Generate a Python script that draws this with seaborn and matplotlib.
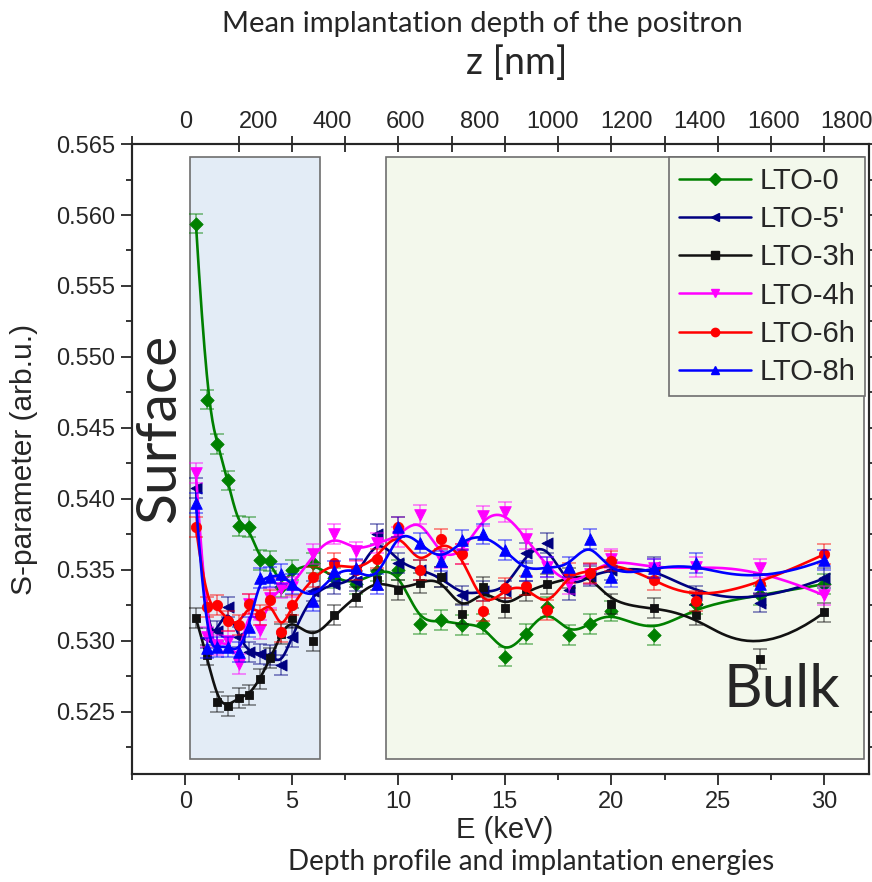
import numpy as np
import matplotlib
matplotlib.use("Agg")
import matplotlib.pyplot as plt
import seaborn as sns
from matplotlib.lines import Line2D
from matplotlib.patches import Rectangle
from matplotlib.ticker import MultipleLocator, FormatStrFormatter

# ---------- data ----------
energy = [0.5, 1, 1.5, 2, 2.5, 3, 3.5, 4, 4.5, 5, 6, 7, 8, 9, 10,
          11, 12, 13, 14, 15, 16, 17, 18, 19, 20, 22, 24, 27, 30]

s_lto0 = [0.5594, 0.5470, 0.5439, 0.5413, 0.5381, 0.5380, 0.5357, 0.5356, 0.5338, 0.5350,
          0.5355, 0.5344, 0.5340, 0.5349, 0.5350, 0.5312, 0.5315, 0.5311, 0.5312, 0.5289,
          0.5305, 0.5324, 0.5304, 0.5312, 0.5321, 0.5304, 0.5326, 0.5332, 0.5340]
s_lto5 = [0.5408, 0.5302, 0.5307, 0.5324, 0.5303, 0.5292, 0.5291, 0.5290, 0.5283, 0.5303,
          0.5335, 0.5340, 0.5342, 0.5375, 0.5355, 0.5350, 0.5345, 0.5332, 0.5335, 0.5335,
          0.5362, 0.5369, 0.5336, 0.5346, 0.5350, 0.5352, 0.5332, 0.5327, 0.5344]
s_lto3h = [0.5316, 0.5290, 0.5257, 0.5254, 0.5260, 0.5262, 0.5273, 0.5288, 0.5305, 0.5316,
           0.5300, 0.5318, 0.5331, 0.5343, 0.5336, 0.5341, 0.5345, 0.5319, 0.5338, 0.5323,
           0.5335, 0.5340, 0.5344, 0.5347, 0.5326, 0.5323, 0.5318, 0.5287, 0.5320]
s_lto4h = [0.5418, 0.5303, 0.5297, 0.5300, 0.5284, 0.5326, 0.5308, 0.5330, 0.5337, 0.5338,
           0.5361, 0.5375, 0.5363, 0.5369, 0.5373, 0.5389, 0.5358, 0.5361, 0.5388, 0.5391,
           0.5372, 0.5352, 0.5340, 0.5347, 0.5358, 0.5351, 0.5352, 0.5351, 0.5332]
s_lto6h = [0.5380, 0.5324, 0.5325, 0.5314, 0.5311, 0.5326, 0.5318, 0.5329, 0.5306, 0.5325,
           0.5345, 0.5355, 0.5350, 0.5358, 0.5380, 0.5350, 0.5372, 0.5361, 0.5321, 0.5337,
           0.5339, 0.5322, 0.5348, 0.5348, 0.5356, 0.5343, 0.5328, 0.5340, 0.5361]
s_lto8h = [0.5397, 0.5295, 0.5296, 0.5296, 0.5292, 0.5310, 0.5344, 0.5345, 0.5347, 0.5340,
           0.5328, 0.5349, 0.5351, 0.5340, 0.5380, 0.5369, 0.5356, 0.5371, 0.5375, 0.5364,
           0.5349, 0.5352, 0.5352, 0.5372, 0.5345, 0.5351, 0.5355, 0.5340, 0.5357]
s_err = 0.0007

series = [s_lto0, s_lto5, s_lto3h, s_lto4h, s_lto6h, s_lto8h]
labels = ["LTO-0", "LTO-5'", "LTO-3h", "LTO-4h", "LTO-6h", "LTO-8h"]
colors = ["#008000", "#000080", "#111111", "#FF00FF", "#FF0000", "#0000FF"]
markers = ["D", "<", "s", "v", "o", "^"]
msize = [46, 64, 40, 70, 55, 70]

# top axis: depth labels (nm) and where they sit on the energy scale
top_labels = ["0", "200", "400", "600", "800", "1000", "1200", "1400", "1600", "1800"]
top_pos = [0, 3.45, 6.9, 10.35, 13.8, 17.25, 20.7, 24.15, 27.6, 31.05]

TICK_FONT = "Liberation Sans"
TICK_SIZE = 17
TEXT_FONT = "Lato"


def bspline(x, y, n=500, k=3):
    """Clamped cubic B-spline using the data points as control points."""
    P = np.column_stack([x, y])
    m = len(P)
    knots = np.concatenate([[0] * k, np.arange(m - k + 1), [m - k] * k]).astype(float)
    t = np.linspace(0, m - k - 1e-9, n)
    N = np.zeros((n, len(knots) - 1))
    for i in range(len(knots) - 1):
        N[:, i] = (knots[i] <= t) & (t < knots[i + 1])
    for d in range(1, k + 1):
        for i in range(len(knots) - 1 - d):
            d1 = knots[i + d] - knots[i]
            d2 = knots[i + d + 1] - knots[i + 1]
            a = (t - knots[i]) / d1 if d1 > 0 else 0.0
            b = (knots[i + d + 1] - t) / d2 if d2 > 0 else 0.0
            N[:, i] = a * N[:, i] + b * N[:, i + 1]
    C = N[:, :m] @ P
    return C[:, 0], C[:, 1]


sns.set_theme(style="ticks")
plt.rcParams["font.family"] = ["Liberation Sans", "DejaVu Sans"]
plt.rcParams["axes.linewidth"] = 1.5

fig = plt.figure(figsize=(8.72, 8.82), dpi=100)
ax = fig.add_axes([0.1514, 0.1224, 0.8452, 0.7143])
ax.set_xlim(-2.5, 32.1)
ax.set_ylim(0.52062, 0.565)

# shaded regions
ax.add_patch(Rectangle((0.23, 0.52168), 6.09, 0.0424, facecolor="#E3ECF6",
                       edgecolor="#6E6E6E", lw=1.2, zorder=0.5))
ax.add_patch(Rectangle((9.42, 0.52168), 22.46, 0.0424, facecolor="#F3F8EC",
                       edgecolor="#6E6E6E", lw=1.2, zorder=0.5))

for i, (vals, c, m, s) in enumerate(zip(series, colors, markers, msize)):
    z = 2 + i * 0.1
    ax.errorbar(energy, vals, yerr=s_err, fmt="none", ecolor=c, alpha=0.55,
                elinewidth=1.1, capsize=5, capthick=1.1, zorder=z)
    cx, cy = bspline(energy, vals)
    sns.lineplot(x=cx, y=cy, color=c, lw=1.9, sort=False, estimator=None,
                 legend=False, ax=ax, zorder=z + 0.01)
    sns.scatterplot(x=energy, y=vals, marker=m, color=c, s=s, edgecolor=c,
                    linewidth=0.6, legend=False, ax=ax, zorder=z + 0.02)

# axes cosmetics
ax.xaxis.set_major_locator(MultipleLocator(5))
ax.xaxis.set_minor_locator(MultipleLocator(2.5))
ax.yaxis.set_major_locator(MultipleLocator(0.005))
ax.yaxis.set_minor_locator(MultipleLocator(0.0025))
ax.yaxis.set_major_formatter(FormatStrFormatter("%.3f"))
ax.tick_params(which="both", direction="out", top=False, right=True, width=1.3)
ax.tick_params(which="major", length=8)
ax.tick_params(which="minor", length=4.5)
ax.tick_params(axis="x", pad=4)
ax.tick_params(axis="y", pad=4)
for lab in ax.get_xticklabels() + ax.get_yticklabels():
    lab.set_fontfamily(TICK_FONT)
    lab.set_fontsize(TICK_SIZE)

ax.set_xlabel("E (keV)", fontsize=21)
ax.set_ylabel("S-parameter (arb.u.)", fontsize=21.5)
ax.xaxis.set_label_coords(0.506, -0.066)
ax.yaxis.set_label_coords(-0.128, 0.5)

axt = ax.twiny()
axt.set_xlim(ax.get_xlim())
axt.set_xticks(top_pos)
axt.set_xticklabels(top_labels, fontfamily=TICK_FONT, fontsize=TICK_SIZE)
axt.xaxis.set_minor_locator(MultipleLocator(2.5))
axt.tick_params(axis="x", which="major", length=0, pad=8)
axt.tick_params(axis="x", which="minor", length=11, direction="inout", width=1.3)
for sp in axt.spines.values():
    sp.set_linewidth(1.5)

# legend
handles = [Line2D([], [], color=c, marker=m, markersize=6, lw=1.8)
           for c, m in zip(colors, markers)]
leg = ax.legend(handles, labels, loc="upper right", bbox_to_anchor=(0.9946, 0.9794),
                fontsize=21, frameon=True, fancybox=False, borderaxespad=0,
                handlelength=2.45, handletextpad=0.3, labelspacing=0.35,
                borderpad=0.34)
leg.get_frame().set_facecolor("#F3F8EC")
leg.get_frame().set_edgecolor("#6E6E6E")
leg.get_frame().set_linewidth(1.2)
leg.get_frame().set_alpha(1)
leg.set_zorder(5)

# annotations
ax.text(0.038, 0.549, "Surface", rotation=90, ha="center", va="center",
        fontsize=41, fontfamily=TEXT_FONT, transform=ax.transAxes)
ax.text(0.882, 0.1333, "Bulk", ha="center", va="center",
        fontsize=43, fontfamily=TEXT_FONT, transform=ax.transAxes)
fig.text(0.553, 0.973, "Mean implantation depth of the positron", ha="center",
         va="center", fontsize=21, fontfamily=TEXT_FONT)
fig.text(0.592, 0.9286, "z [nm]", ha="center", va="center", fontsize=27,
         fontfamily=TEXT_FONT)
fig.text(0.609, 0.0227, "Depth profile and implantation energies", ha="center",
         va="center", fontsize=20, fontfamily=TEXT_FONT)

fig.savefig("out.png", dpi=100)
